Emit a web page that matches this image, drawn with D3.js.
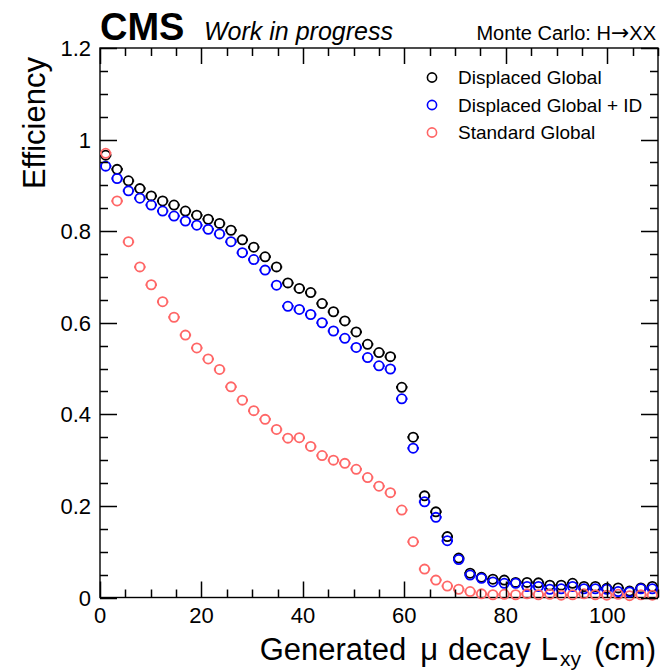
<!DOCTYPE html>
<html>
<head>
<meta charset="utf-8">
<script src="https://cdn.jsdelivr.net/npm/d3@7"></script>
<style>
  body { margin: 0; background: #fff; }
  text { font-family: "Liberation Sans", Arial, sans-serif; }
</style>
</head>
<body>
<div id="chart"></div>
<script>
// Muon reconstruction efficiency vs generated Lxy

// bin centres (49 bins between 0 and 110 cm)
const lxyCenters = [1.12, 3.37, 5.61, 7.86, 10.10, 12.35, 14.59, 16.84, 19.08, 21.33,
  23.57, 25.82, 28.06, 30.31, 32.55, 34.80, 37.04, 39.29, 41.53, 43.78,
  46.02, 48.27, 50.51, 52.76, 55.00, 57.24, 59.49, 61.73, 63.98, 66.22,
  68.47, 70.71, 72.96, 75.20, 77.45, 79.69, 81.94, 84.18, 86.43, 88.67,
  90.92, 93.16, 95.41, 97.65, 99.90, 102.14, 104.39, 106.63, 108.88];
const binHalfWidth = 1.12;

const effDisplaced = [0.966, 0.935, 0.910, 0.893, 0.877, 0.866, 0.857, 0.844, 0.835, 0.826,
  0.817, 0.802, 0.781, 0.765, 0.744, 0.722, 0.687, 0.675, 0.666, 0.642,
  0.624, 0.604, 0.580, 0.553, 0.535, 0.526, 0.459, 0.350, 0.222, 0.187,
  0.133, 0.086, 0.053, 0.044, 0.040, 0.038, 0.033, 0.033, 0.032, 0.027,
  0.027, 0.031, 0.024, 0.024, 0.020, 0.021, 0.014, 0.021, 0.024];

const effDisplacedID = [0.942, 0.915, 0.888, 0.872, 0.857, 0.844, 0.833, 0.822, 0.813, 0.804,
  0.794, 0.777, 0.753, 0.738, 0.715, 0.682, 0.636, 0.629, 0.618, 0.600,
  0.582, 0.566, 0.546, 0.524, 0.506, 0.499, 0.434, 0.326, 0.209, 0.175,
  0.124, 0.083, 0.049, 0.042, 0.034, 0.031, 0.031, 0.024, 0.024, 0.018,
  0.019, 0.024, 0.019, 0.019, 0.018, 0.013, 0.012, 0.019, 0.019];

const effStandard = [0.970, 0.866, 0.777, 0.722, 0.683, 0.646, 0.612, 0.573, 0.545, 0.521,
  0.498, 0.460, 0.431, 0.408, 0.389, 0.367, 0.348, 0.349, 0.330, 0.310,
  0.300, 0.293, 0.280, 0.262, 0.243, 0.229, 0.191, 0.122, 0.062, 0.038,
  0.025, 0.018, 0.013, 0.008, 0.006, 0.007, 0.006, 0.008, 0.006, 0.007,
  0.005, 0.006, 0.008, 0.006, 0.005, 0.007, 0.004, 0.006, 0.005];

const seriesNames = ["Displaced Global", "Displaced Global + ID", "Standard Global"];
const seriesColors = ["#000000", "#0000ff", "#ff6666"];
const yTickValues = [0, 0.2, 0.4, 0.6, 0.8, 1, 1.2];
const xTickValues = [0, 20, 40, 60, 80, 100];
const xMinorTicks = [5, 10, 15, 25, 30, 35, 45, 50, 55, 65, 70, 75, 85, 90, 95, 105, 110];
const yMinorTicks = [0.05, 0.1, 0.15, 0.25, 0.3, 0.35, 0.45, 0.5, 0.55, 0.65, 0.7, 0.75,
  0.85, 0.9, 0.95, 1.05, 1.1, 1.15];

// Frame
const W = 660, H = 672;
const frame = {left: 100, right: 658, top: 48, bottom: 597.5};

const svg = d3.select("#chart").append("svg")
    .attr("width", W)
    .attr("height", H);

const x = d3.scaleLinear().domain([0, 110]).range([frame.left, frame.right]);
const y = d3.scaleLinear().domain([0, 1.2]).range([frame.bottom, frame.top]);

svg.append("rect")
    .attr("x", frame.left).attr("y", frame.top)
    .attr("width", frame.right - frame.left)
    .attr("height", frame.bottom - frame.top)
    .attr("fill", "none").attr("stroke", "#000").attr("stroke-width", 1.4);

// Tick labels
svg.append("g").selectAll("text")
  .data(yTickValues).join("text")
    .attr("x", frame.left - 9)
    .attr("y", d => y(d) + 8)
    .attr("text-anchor", "end")
    .style("font-size", "22px")
    .text(d => d3.format("~g")(d));

svg.append("g").selectAll("text")
  .data(xTickValues).join("text")
    .attr("x", d => x(d))
    .attr("y", frame.bottom + 25)
    .attr("text-anchor", "middle")
    .style("font-size", "22px")
    .text(d => d);

// Axis titles
svg.append("text")
    .attr("transform", "rotate(-90)")
    .attr("x", -57)
    .attr("y", 45)
    .attr("text-anchor", "end")
    .style("font-size", "31px")
    .text("Efficiency");

const xTitle = svg.append("text")
    .attr("x", 656)
    .attr("y", 660)
    .attr("text-anchor", "end")
    .style("font-size", "31px");
xTitle.append("tspan").text("Generated");
xTitle.append("tspan").attr("dx", 14).text("\u03bc");
xTitle.append("tspan").attr("dx", 10).text("decay");
xTitle.append("tspan").attr("dx", 10).text("L");
xTitle.append("tspan").attr("dy", 6).attr("dx", 2).style("font-size", "21px").text("xy");
xTitle.append("tspan").attr("dy", -6).attr("dx", 13).text("(cm)");

// Header
svg.append("text")
    .attr("x", 100).attr("y", 40)
    .style("font-size", "38px").style("font-weight", "bold")
    .text("CMS");
svg.append("text")
    .attr("x", 204).attr("y", 40)
    .style("font-size", "25px").style("font-style", "italic")
    .text("Work in progress");
const mc = svg.append("text")
    .attr("x", 656).attr("y", 40)
    .attr("text-anchor", "end")
    .style("font-size", "20px");
mc.append("tspan").text("Monte Carlo: H");
mc.append("tspan").style("font-family", "DejaVu Sans").style("font-size", "22px").text("\u2192");
mc.append("tspan").text("XX");

// Data points
const allSeries = [effDisplaced, effDisplacedID, effStandard];
const r = 4.6;
const plot = svg.append("g");
allSeries.forEach((vals, s) => {
  const pts = vals.map((v, i) => ({x: lxyCenters[i], y: v}));
  const g = plot.append("g").attr("stroke", seriesColors[s]);
  // horizontal error bars, with a gap around the marker
  g.selectAll("line.el").data(pts).join("line")
      .attr("x1", d => x(d.x - binHalfWidth)).attr("x2", d => x(d.x) - r)
      .attr("y1", d => y(d.y)).attr("y2", d => y(d.y))
      .attr("stroke-width", 2.5);
  g.selectAll("line.er").data(pts).join("line")
      .attr("x1", d => x(d.x) + r).attr("x2", d => x(d.x + binHalfWidth))
      .attr("y1", d => y(d.y)).attr("y2", d => y(d.y))
      .attr("stroke-width", 2.5);
  g.selectAll("circle").data(pts).join("circle")
      .attr("cx", d => x(d.x))
      .attr("cy", d => y(d.y))
      .attr("r", r)
      .attr("fill", "none")
      .attr("stroke-width", 1.8);
});

// Ticks on all four sides, pointing inwards (ROOT style), drawn as one path
let tickPath = "";
const px = v => Math.round(v) + 0.5;
xTickValues.forEach(v => {
  tickPath += `M${px(x(v))},${frame.bottom}V${frame.bottom - 16}`;
  tickPath += `M${px(x(v))},${frame.top}V${frame.top + 16}`;
});
xMinorTicks.forEach(v => {
  tickPath += `M${px(x(v))},${frame.bottom}V${frame.bottom - 8}`;
  tickPath += `M${px(x(v))},${frame.top}V${frame.top + 8}`;
});
yTickValues.forEach(v => {
  tickPath += `M${frame.left},${px(y(v))}H${frame.left + 17}`;
  tickPath += `M${frame.right},${px(y(v))}H${frame.right - 17}`;
});
yMinorTicks.forEach(v => {
  tickPath += `M${frame.left},${px(y(v))}H${frame.left + 8}`;
  tickPath += `M${frame.right},${px(y(v))}H${frame.right - 8}`;
});
svg.append("path")
    .attr("d", tickPath)
    .attr("fill", "none")
    .attr("stroke", "#000")
    .attr("stroke-width", 1.5);

// Legend
const legend = svg.append("g");
seriesNames.forEach((name, i) => {
  const ly = 77.5 + i * 27.5;
  legend.append("circle")
      .attr("cx", 432).attr("cy", ly).attr("r", 4.6)
      .attr("fill", "none").attr("stroke", seriesColors[i]).attr("stroke-width", 1.6);
  legend.append("text")
      .attr("x", 458).attr("y", ly + 6.5)
      .style("font-size", "19px")
      .text(name);
});
</script>
</body>
</html>
